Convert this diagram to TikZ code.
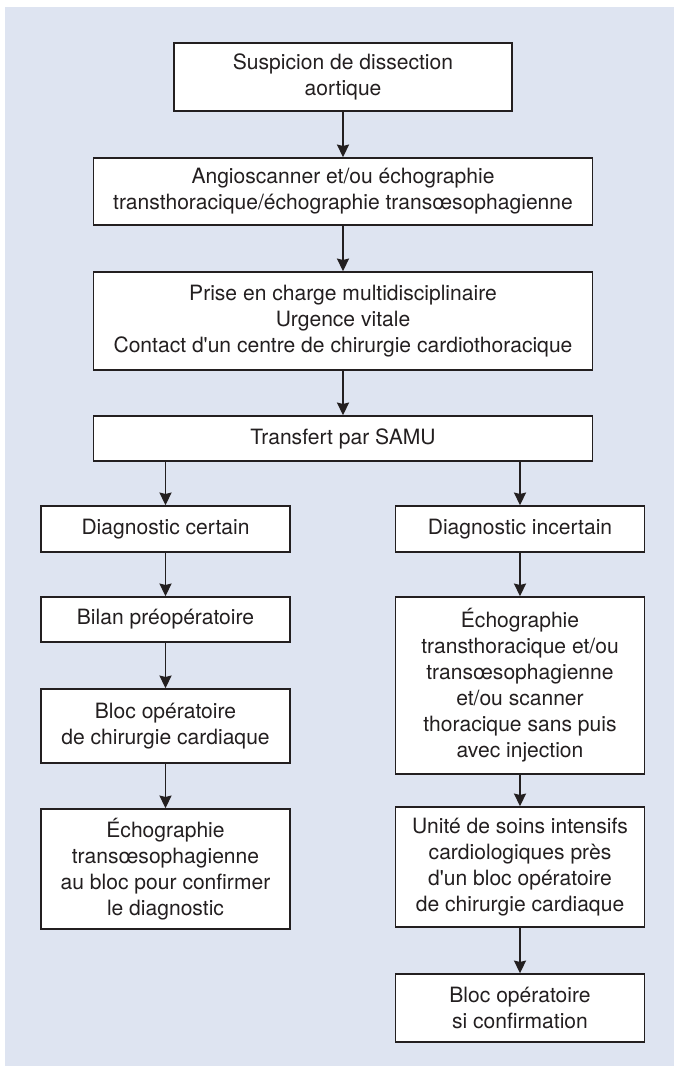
\documentclass[tikz,border=0pt]{standalone}
\usepackage{fontspec}
\setmainfont{TeX Gyre Heros}
\usetikzlibrary{arrows.meta}

\definecolor{panel}{RGB}{222,228,241}
\definecolor{ink}{RGB}{35,31,32}

\begin{document}
\begin{tikzpicture}[x=0.75pt, y=-0.75pt,
    box/.style={draw=ink, fill=white, line width=1.1pt, align=center, text=ink,
        inner sep=2pt, font=\fontsize{15.8}{19.5}\selectfont},
    arr/.style={draw=ink, line width=1.2pt, -{Triangle[length=9.5pt, width=9pt, inset=1pt]}}]

\def\cx{343}
\def\lx{165.5}
\def\rx{520}
\def\wide{499*0.75pt}
\def\colw{249*0.75pt}

\useasboundingbox (0,0) rectangle (674,1066);
\fill[panel] (5,7) rectangle (674,1066);

\node[box, minimum width=338*0.75pt, minimum height=68*0.75pt] (suspicion) at (\cx,77)
    {Suspicion de dissection\\aortique};
\node[box, minimum width=\wide, minimum height=67*0.75pt] (imagerie) at (\cx,191.5)
    {Angioscanner et/ou échographie\\transthoracique/échographie transœsophagienne};
\node[box, minimum width=\wide, minimum height=98*0.75pt] (priseencharge) at (\cx,321)
    {Prise en charge multidisciplinaire\\Urgence vitale\\Contact d\textquotesingle un centre de chirurgie cardiothoracique};
\node[box, minimum width=\wide, minimum height=45*0.75pt] (samu) at (\cx,438.5)
    {Transfert par SAMU};

\node[box, minimum width=\colw, minimum height=46*0.75pt] (certain) at (\lx,529)
    {Diagnostic certain};
\node[box, minimum width=\colw, minimum height=45*0.75pt] (bilan) at (\lx,619.5)
    {Bilan préopératoire};
\node[box, minimum width=\colw, minimum height=74*0.75pt] (bloc) at (\lx,726)
    {Bloc opératoire\\de chirurgie cardiaque};
\node[box, minimum width=\colw, minimum height=120*0.75pt] (eto) at (\lx,869)
    {Échographie\\transœsophagienne\\au bloc pour confirmer\\le diagnostic};

\node[box, minimum width=\colw, minimum height=46*0.75pt] (incertain) at (\rx,529)
    {Diagnostic incertain};
\node[box, minimum width=\colw, minimum height=177*0.75pt] (examens) at (\rx,685.5)
    {Échographie\\transthoracique et/ou\\transœsophagienne\\et/ou scanner\\thoracique sans puis\\avec injection};
\node[box, minimum width=\colw, minimum height=120*0.75pt] (usic) at (\rx,867)
    {Unité de soins intensifs\\cardiologiques près\\d\textquotesingle un bloc opératoire\\de chirurgie cardiaque};
\node[box, minimum width=\colw, minimum height=68*0.75pt] (confirmation) at (\rx,1008)
    {Bloc opératoire\\si confirmation};

\draw[arr] (suspicion) -- (imagerie);
\draw[arr] (imagerie) -- (priseencharge);
\draw[arr] (priseencharge) -- (samu);
\draw[arr] (samu.south -| certain.north) -- (certain);
\draw[arr] (samu.south -| incertain.north) -- (incertain);
\draw[arr] (certain) -- (bilan);
\draw[arr] (bilan) -- (bloc);
\draw[arr] (bloc) -- (eto);
\draw[arr] (incertain) -- (examens);
\draw[arr] (examens) -- (usic);
\draw[arr] (usic) -- (confirmation);

\end{tikzpicture}
\end{document}
